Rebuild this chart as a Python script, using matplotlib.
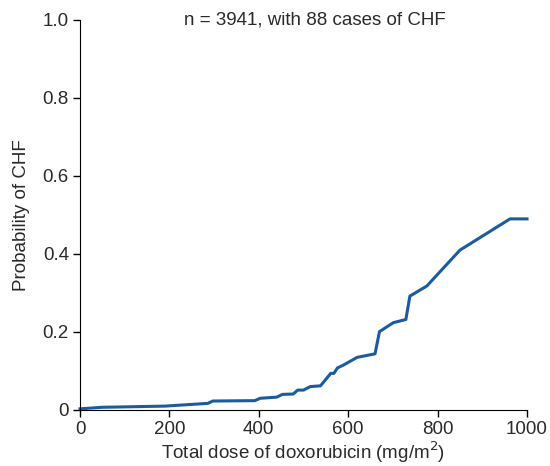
"""Cumulative probability of CHF vs total doxorubicin dose."""

import matplotlib
matplotlib.use("Agg")
import matplotlib.pyplot as plt

plt.rcParams["font.family"] = ["Liberation Sans", "DejaVu Sans"]

DOSE_MG_M2 = [0, 50, 100, 190, 286, 297, 391, 403, 440, 453, 477, 487, 500,
              515, 538, 561, 568, 576, 589, 620, 660, 670, 701, 729, 738,
              776, 850, 962, 1000]
PROB_CHF = [0.003, 0.007, 0.008, 0.010, 0.017, 0.023, 0.024, 0.030, 0.033,
            0.040, 0.041, 0.051, 0.051, 0.060, 0.062, 0.094, 0.094, 0.108,
            0.115, 0.135, 0.144, 0.201, 0.224, 0.232, 0.292, 0.318, 0.410,
            0.490, 0.490]
X_TICKS = [0, 200, 400, 600, 800, 1000]
Y_TICKS = [0, 0.2, 0.4, 0.6, 0.8, 1.0]
Y_TICK_LABELS = ["0", "0.2", "0.4", "0.6", "0.8", "1.0"]

FONT_SIZE = 13.5
TEXT_COLOR = "#2a2a2a"


def main() -> None:
    fig = plt.figure(figsize=(5.5, 4.66), dpi=100)
    ax = fig.add_axes([80 / 550, 56 / 466, 447 / 550, 390 / 466])

    ax.plot(DOSE_MG_M2, PROB_CHF, color="#1b5c9e", linewidth=2.2,
            solid_joinstyle="round", clip_on=False)

    ax.set_xlim(0, 1000)
    ax.set_ylim(0, 1.0)
    ax.set_xticks(X_TICKS)
    ax.set_yticks(Y_TICKS)
    ax.set_yticklabels(Y_TICK_LABELS)
    ax.spines["top"].set_visible(False)
    ax.spines["right"].set_visible(False)
    ax.tick_params(direction="out", length=5, width=1, labelsize=FONT_SIZE,
                   labelcolor=TEXT_COLOR, pad=3)

    ax.set_xlabel("Total dose of doxorubicin (mg/m$^2$)", fontsize=FONT_SIZE,
                  color=TEXT_COLOR, labelpad=1)
    ax.set_ylabel("Probability of CHF", fontsize=FONT_SIZE, color=TEXT_COLOR,
                  labelpad=9)
    ax.text(0.525, 1.0, "n = 3941, with 88 cases of CHF", transform=ax.transAxes,
            ha="center", va="center", fontsize=FONT_SIZE, color=TEXT_COLOR)

    fig.savefig("out.png", dpi=100)


if __name__ == "__main__":
    main()
